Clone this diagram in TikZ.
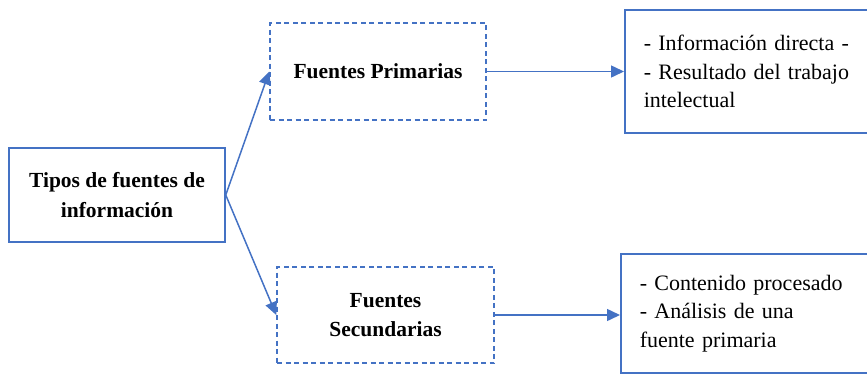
\documentclass[tikz,border=0pt]{standalone}
\usepackage{fontspec}
\setmainfont{Liberation Serif}
\usetikzlibrary{arrows.meta,positioning}
\definecolor{azul}{HTML}{4472C4}

\begin{document}
\begin{tikzpicture}[x=1pt,y=-1pt,
        caja/.style={draw=azul,line width=1.5pt,minimum width=216pt,minimum height=94pt,align=center,font=\fontsize{21.5}{29.5}\selectfont\bfseries},
        cajapunt/.style={caja,dash pattern=on 5pt off 3.5pt},
        nota/.style={draw=azul,line width=1.5pt,minimum width=250pt,text width=212pt,align=left,font=\fontsize{22}{28.5}\selectfont},
        flecha/.style={draw=azul,line width=1.5pt,-{Triangle[length=13pt,width=12pt]}}]
        \useasboundingbox (0,0) rectangle (867,375);
        \node[caja] (tipos) at (117,195) {Tipos de fuentes de\\información};
        \node[cajapunt,minimum height=97pt] (prim) at (378,71.5) {Fuentes Primarias};
        \node[cajapunt,minimum width=217pt,minimum height=96pt] (sec) at (385.5,315) {Fuentes\\Secundarias};
        \node[nota,anchor=west,minimum height=123pt] (info) at (624,71.5) {- Información directa -\\- Resultado del trabajo\\intelectual};
        \node[nota,anchor=west,minimum height=119pt] (cont) at (620,313.5) {- Contenido procesado\\- Análisis de una\\fuente primaria};
        
        \draw[flecha] (tipos.east) -- (prim.west);
        \draw[flecha] (tipos.east) -- (sec.west);
        \draw[flecha] (prim.east) -- (prim.east -| info.west);
        \draw[flecha] (sec.east) -- (sec.east -| cont.west);
        \end{tikzpicture}
\end{document}
